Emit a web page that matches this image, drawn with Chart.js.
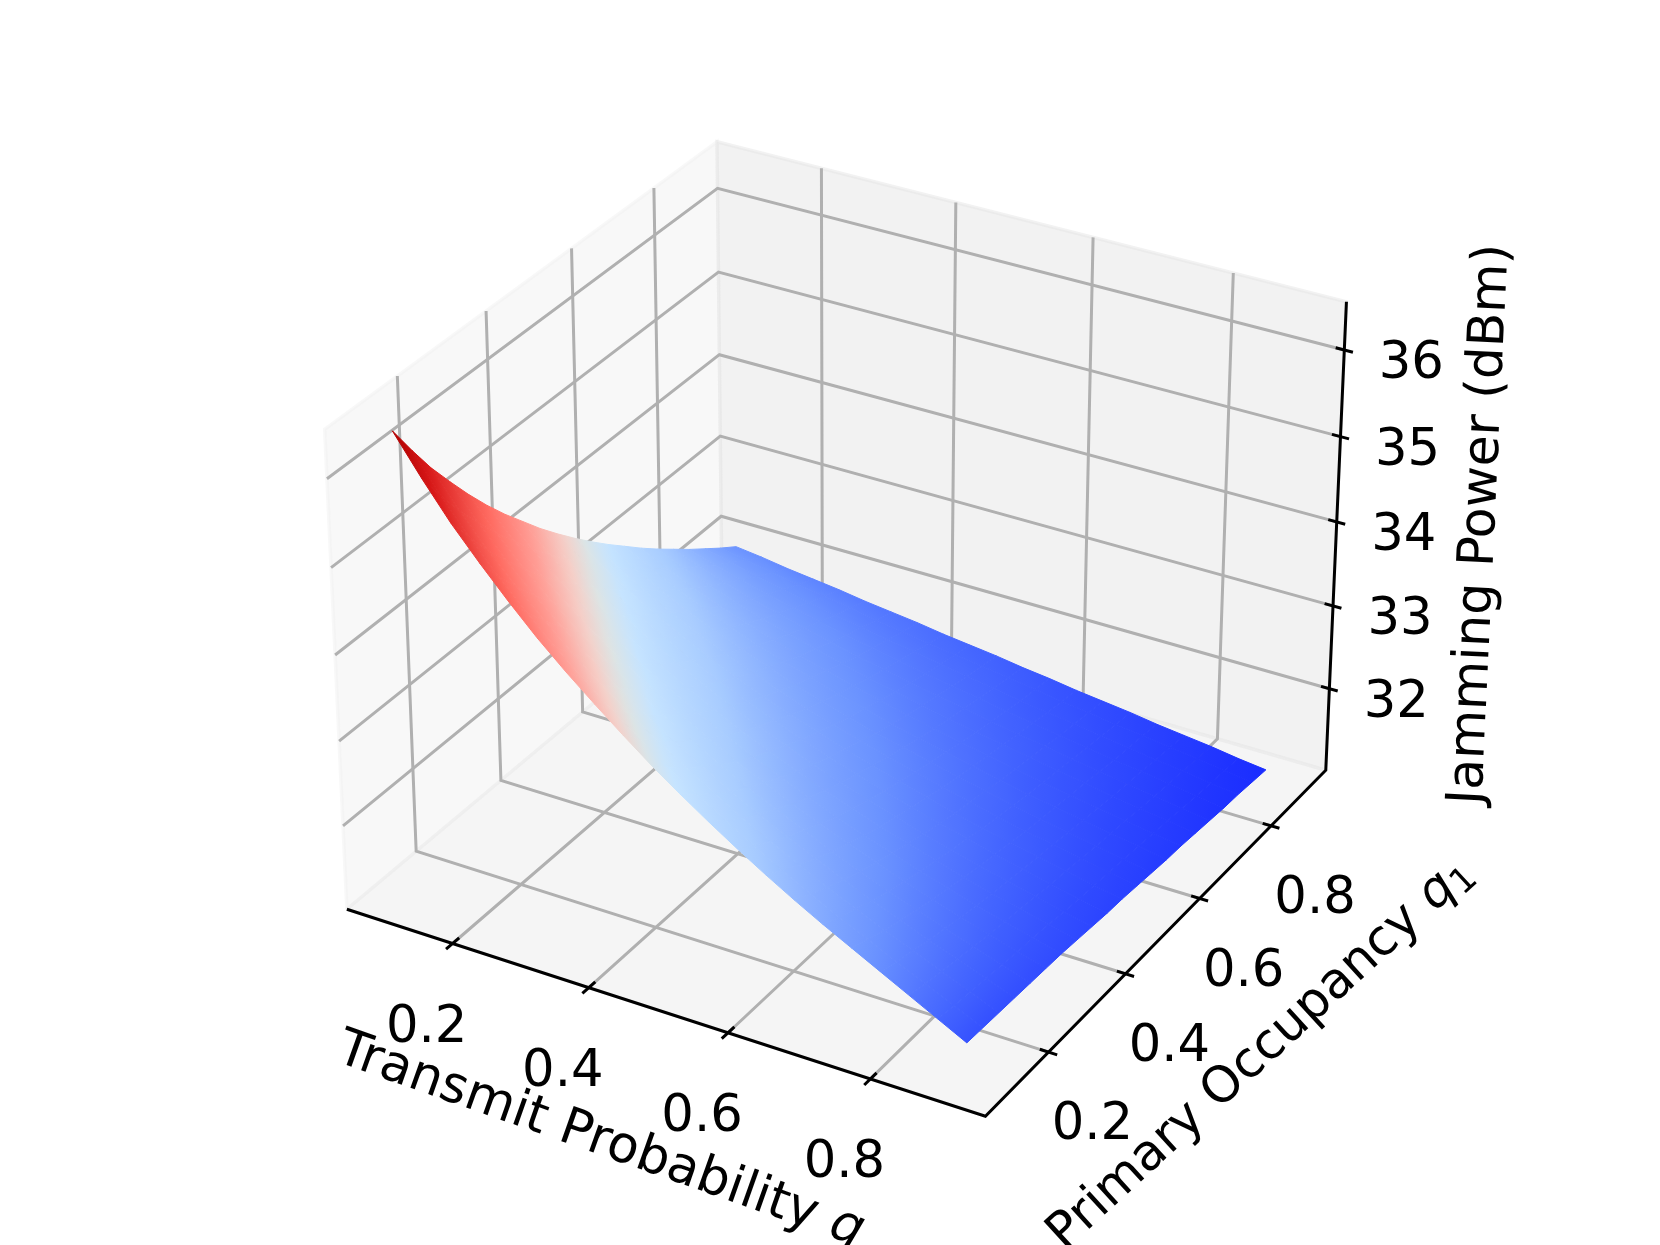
<!DOCTYPE html>
<html>
<head>
<meta charset="utf-8">
<style>
  body { margin: 0; background: #fff; }
  canvas { display: block; }
</style>
<script src="https://cdn.jsdelivr.net/npm/chart.js"></script>
</head>
<body>
<canvas id="surface" width="1660" height="1245"></canvas>
<script>
// Jamming power in dBm. One row per q1 value, one column per q value.
const qValues = [0.1, 0.14, 0.18, 0.22, 0.26, 0.3, 0.34, 0.38, 0.42, 0.46, 0.5, 0.54, 0.58, 0.62, 0.66, 0.7, 0.74, 0.78, 0.82, 0.86, 0.9];
const q1Values = [0.1, 0.14, 0.18, 0.22, 0.26, 0.3, 0.34, 0.38, 0.42, 0.46, 0.5, 0.54, 0.58, 0.62, 0.66, 0.7, 0.74, 0.78, 0.82, 0.86, 0.9];
const powerRows = [
  [36.44, 36.00, 35.59, 35.23, 34.89, 34.57, 34.28, 34.01, 33.75, 33.50, 33.27, 33.05, 32.84, 32.64, 32.45, 32.27, 32.10, 31.93, 31.76, 31.59, 31.42],
  [36.07, 35.65, 35.27, 34.92, 34.60, 34.30, 34.03, 33.77, 33.53, 33.30, 33.09, 32.89, 32.70, 32.51, 32.34, 32.17, 32.02, 31.86, 31.71, 31.56, 31.41],
  [35.72, 35.32, 34.96, 34.64, 34.34, 34.06, 33.80, 33.56, 33.34, 33.13, 32.93, 32.74, 32.57, 32.40, 32.24, 32.09, 31.94, 31.81, 31.67, 31.54, 31.40],
  [35.41, 35.03, 34.69, 34.38, 34.10, 33.84, 33.59, 33.37, 33.16, 32.97, 32.78, 32.61, 32.45, 32.30, 32.15, 32.01, 31.88, 31.75, 31.63, 31.51, 31.39],
  [35.11, 34.75, 34.43, 34.14, 33.88, 33.63, 33.41, 33.20, 33.01, 32.82, 32.65, 32.50, 32.35, 32.20, 32.07, 31.94, 31.82, 31.71, 31.60, 31.49, 31.38],
  [34.83, 34.50, 34.19, 33.92, 33.67, 33.45, 33.24, 33.04, 32.86, 32.69, 32.54, 32.39, 32.25, 32.12, 32.00, 31.88, 31.77, 31.66, 31.56, 31.46, 31.37],
  [34.57, 34.26, 33.97, 33.72, 33.49, 33.27, 33.08, 32.90, 32.73, 32.57, 32.43, 32.29, 32.16, 32.04, 31.93, 31.82, 31.72, 31.62, 31.53, 31.44, 31.36],
  [34.33, 34.03, 33.77, 33.53, 33.31, 33.11, 32.93, 32.77, 32.61, 32.47, 32.33, 32.20, 32.09, 31.97, 31.87, 31.77, 31.67, 31.58, 31.50, 31.42, 31.34],
  [34.09, 33.82, 33.57, 33.35, 33.15, 32.97, 32.80, 32.64, 32.50, 32.37, 32.24, 32.12, 32.01, 31.91, 31.81, 31.72, 31.63, 31.55, 31.47, 31.39, 31.32],
  [33.87, 33.62, 33.39, 33.18, 33.00, 32.83, 32.67, 32.53, 32.40, 32.27, 32.16, 32.05, 31.95, 31.85, 31.76, 31.68, 31.59, 31.52, 31.44, 31.37, 31.30],
  [33.66, 33.43, 33.22, 33.03, 32.86, 32.70, 32.56, 32.42, 32.30, 32.19, 32.08, 31.98, 31.89, 31.80, 31.71, 31.63, 31.56, 31.49, 31.42, 31.35, 31.29],
  [33.46, 33.24, 33.05, 32.88, 32.72, 32.58, 32.45, 32.33, 32.21, 32.11, 32.01, 31.92, 31.83, 31.75, 31.67, 31.59, 31.52, 31.46, 31.39, 31.33, 31.27],
  [33.27, 33.07, 32.90, 32.74, 32.60, 32.47, 32.35, 32.23, 32.13, 32.03, 31.94, 31.86, 31.78, 31.70, 31.63, 31.56, 31.49, 31.43, 31.37, 31.31, 31.25],
  [33.09, 32.91, 32.75, 32.61, 32.48, 32.36, 32.25, 32.15, 32.05, 31.97, 31.88, 31.80, 31.73, 31.66, 31.59, 31.52, 31.46, 31.40, 31.34, 31.29, 31.23],
  [32.91, 32.75, 32.61, 32.48, 32.37, 32.26, 32.16, 32.07, 31.98, 31.90, 31.82, 31.75, 31.68, 31.62, 31.55, 31.49, 31.43, 31.38, 31.32, 31.27, 31.22],
  [32.74, 32.60, 32.48, 32.36, 32.26, 32.17, 32.08, 31.99, 31.91, 31.84, 31.77, 31.70, 31.64, 31.58, 31.52, 31.46, 31.41, 31.35, 31.30, 31.25, 31.20],
  [32.58, 32.46, 32.35, 32.25, 32.16, 32.08, 32.00, 31.92, 31.85, 31.78, 31.72, 31.66, 31.60, 31.54, 31.49, 31.43, 31.38, 31.33, 31.28, 31.23, 31.18],
  [32.42, 32.32, 32.23, 32.14, 32.07, 31.99, 31.92, 31.86, 31.79, 31.73, 31.67, 31.62, 31.56, 31.51, 31.45, 31.40, 31.35, 31.31, 31.26, 31.21, 31.16],
  [32.27, 32.19, 32.11, 32.04, 31.97, 31.91, 31.85, 31.79, 31.74, 31.68, 31.63, 31.58, 31.52, 31.47, 31.43, 31.38, 31.33, 31.28, 31.24, 31.19, 31.15],
  [32.12, 32.06, 32.00, 31.94, 31.89, 31.84, 31.78, 31.73, 31.68, 31.63, 31.59, 31.54, 31.49, 31.44, 31.40, 31.35, 31.31, 31.26, 31.22, 31.17, 31.13],
  [31.98, 31.94, 31.89, 31.85, 31.81, 31.76, 31.72, 31.68, 31.63, 31.59, 31.55, 31.50, 31.46, 31.41, 31.37, 31.33, 31.28, 31.24, 31.20, 31.15, 31.11]
];

const qTicks = [0.2, 0.4, 0.6, 0.8];
const q1Ticks = [0.2, 0.4, 0.6, 0.8];
const powerTicks = [32, 33, 34, 35, 36];

// Limits of the drawn box
const qBox = [0.0417, 0.9583];
const q1Box = [0.0417, 0.9583];
const powerBox = [31.0, 36.55];

// Colours along the surface, from lowest to highest power
const colourStops = [
  [0, 26, 44, 255],
  [0.08, 64, 96, 255],
  [0.16, 106, 146, 255],
  [0.3, 168, 204, 255],
  [0.41, 198, 228, 255],
  [0.46, 221, 228, 228],
  [0.505, 245, 207, 200],
  [0.585, 255, 158, 150],
  [0.7, 255, 106, 96],
  [0.88, 216, 24, 24],
  [1, 176, 0, 0]
];

const font = "'DejaVu Sans'";
const fontSize = 51.2;
const lineWidth = 3;

// mplot3d camera: elevation 30, azimuth -60, distance 10, box 4:4:3
function project(q, q1, power) {
  const dx = ((q - qBox[0]) / (qBox[1] - qBox[0]) - 0.5) * 1.1428;
  const dy = ((q1 - q1Box[0]) / (q1Box[1] - q1Box[0]) - 0.5) * 1.1428;
  const dz = ((power - powerBox[0]) / (powerBox[1] - powerBox[0]) - 0.5) * 0.8571;
  const w = 10 - (0.433 * dx - 0.75 * dy + 0.5 * dz);
  return {
    x: (0.866 * dx + 0.5 * dy) / w,
    y: (-0.25 * dx + 0.433 * dy + 0.866 * dz) / w
  };
}

function colourFor(power) {
  const t = (power - 31.11) / (36.44 - 31.11);
  let k = 0;
  while (k < colourStops.length - 2 && t > colourStops[k + 1][0]) k++;
  const a = colourStops[k], b = colourStops[k + 1];
  const f = Math.min(1, Math.max(0, (t - a[0]) / (b[0] - a[0])));
  const mix = n => Math.round(a[n] + (b[n] - a[n]) * f);
  return `rgb(${mix(1)},${mix(2)},${mix(3)})`;
}

function lineSet(points, colour, width) {
  return {
    data: points,
    showLine: true,
    pointRadius: 0,
    borderColor: colour,
    borderWidth: width,
    borderCapStyle: "butt",
    borderJoinStyle: "miter",
    fill: false,
    clip: false
  };
}

function paneSet(points, colour) {
  const set = lineSet(points.concat([points[0]]), colour, 3.4);
  set.fill = "shape";
  set.backgroundColor = colour;
  return set;
}

const [qLo, qHi] = qBox;
const [q1Lo, q1Hi] = q1Box;
const [zLo, zHi] = powerBox;
const layers = [];

// Panes
layers.push(paneSet([project(qLo, q1Lo, zLo), project(qLo, q1Hi, zLo), project(qLo, q1Hi, zHi), project(qLo, q1Lo, zHi)], "rgba(242,242,242,0.5)"));
layers.push(paneSet([project(qLo, q1Hi, zLo), project(qHi, q1Hi, zLo), project(qHi, q1Hi, zHi), project(qLo, q1Hi, zHi)], "rgba(230,230,230,0.5)"));
layers.push(paneSet([project(qLo, q1Lo, zLo), project(qHi, q1Lo, zLo), project(qHi, q1Hi, zLo), project(qLo, q1Hi, zLo)], "rgba(236,236,236,0.5)"));

// Grid lines
qTicks.forEach(q => {
  layers.push(lineSet([project(q, q1Lo, zLo), project(q, q1Hi, zLo), project(q, q1Hi, zHi)], "#b0b0b0", lineWidth));
});
q1Ticks.forEach(q1 => {
  layers.push(lineSet([project(qHi, q1, zLo), project(qLo, q1, zLo), project(qLo, q1, zHi)], "#b0b0b0", lineWidth));
});
powerTicks.forEach(z => {
  layers.push(lineSet([project(qLo, q1Lo, z), project(qLo, q1Hi, z), project(qHi, q1Hi, z)], "#b0b0b0", lineWidth));
});

// Axis lines and tick marks
layers.push(lineSet([project(qLo, q1Lo, zLo), project(qHi, q1Lo, zLo), project(qHi, q1Hi, zLo), project(qHi, q1Hi, zHi)], "#000", lineWidth));
qTicks.forEach(q => {
  layers.push(lineSet([project(q, q1Lo - 0.015, zLo), project(q, q1Lo + 0.015, zLo)], "#000", lineWidth));
});
q1Ticks.forEach(q1 => {
  layers.push(lineSet([project(qHi - 0.012, q1, zLo), project(qHi + 0.012, q1, zLo)], "#000", lineWidth));
});
powerTicks.forEach(z => {
  layers.push(lineSet([project(qHi - 0.012, q1Hi, z), project(qHi + 0.012, q1Hi, z)], "#000", lineWidth));
});

// Shade one cell along the direction its power falls fastest on screen
function cellGradient(chart, corners, powers) {
  const { x, y } = chart.scales;
  const px = corners.map(p => x.getPixelForValue(p.x));
  const py = corners.map(p => y.getPixelForValue(p.y));
  // options also get resolved once before the scales are laid out
  if (!px.concat(py).every(Number.isFinite)) return "transparent";
  const d1x = px[2] - px[0], d1y = py[2] - py[0], dz1 = powers[2] - powers[0];
  const d2x = px[3] - px[1], d2y = py[3] - py[1], dz2 = powers[3] - powers[1];
  const det = d1x * d2y - d1y * d2x;
  const a = (dz1 * d2y - dz2 * d1y) / det;
  const b = (d1x * dz2 - d2x * dz1) / det;
  const norm = a * a + b * b;
  const mid = powers.reduce((s, v) => s + v, 0) / 4;
  if (!(norm > 0)) return colourFor(mid);
  const cx = px.reduce((s, v) => s + v, 0) / 4;
  const cy = py.reduce((s, v) => s + v, 0) / 4;
  const top = Math.max(...powers), bottom = Math.min(...powers);
  const g = chart.ctx.createLinearGradient(
    cx + a * (top - mid) / norm, cy + b * (top - mid) / norm,
    cx + a * (bottom - mid) / norm, cy + b * (bottom - mid) / norm
  );
  [0, 0.25, 0.5, 0.75, 1].forEach(s => g.addColorStop(s, colourFor(top + (bottom - top) * s)));
  return g;
}

for (let j = q1Values.length - 2; j >= 0; j--) {
  for (let i = 0; i < qValues.length - 1; i++) {
    const corner = (m, n) => project(qValues[m], q1Values[n], powerRows[n][m]);
    const corners = [corner(i, j), corner(i + 1, j), corner(i + 1, j + 1), corner(i, j + 1)];
    const powers = [powerRows[j][i], powerRows[j][i + 1], powerRows[j + 1][i + 1], powerRows[j + 1][i]];
    const paint = c => cellGradient(c.chart, corners, powers);
    layers.push({
      data: corners.concat([corners[0]]),
      showLine: true,
      pointRadius: 0,
      fill: "shape",
      backgroundColor: paint,
      borderColor: paint,
      borderWidth: 1,
      clip: false
    });
  }
}

// Text placed relative to the projected tick positions
function drawParts(ctx, parts, cx, cy, angle) {
  ctx.save();
  ctx.translate(cx, cy);
  ctx.rotate(angle * Math.PI / 180);
  ctx.textBaseline = "alphabetic";
  ctx.textAlign = "left";
  const widthOf = p => { ctx.font = p.font; return ctx.measureText(p.text).width; };
  const total = parts.reduce((sum, p) => sum + widthOf(p), 0);
  let at = -total / 2;
  parts.forEach(p => {
    const w = widthOf(p);
    ctx.fillText(p.text, at, fontSize * 0.36 + (p.drop || 0));
    at += w;
  });
  ctx.restore();
}

const plain = `${fontSize}px ${font}`;
const italic = `italic ${fontSize}px ${font}`;

const textPlugin = {
  id: "axisText",
  afterDraw(chart) {
    const { ctx, scales: { x, y } } = chart;
    const at = p => [x.getPixelForValue(p.x), y.getPixelForValue(p.y)];
    ctx.fillStyle = "#000";
    ctx.textBaseline = "middle";
    ctx.textAlign = "center";
    ctx.font = plain;
    qTicks.forEach(q => {
      const [px, py] = at(project(q, q1Lo, zLo));
      ctx.fillText(q.toFixed(1), px - 26, py + 85);
    });
    q1Ticks.forEach(q1 => {
      const [px, py] = at(project(qHi, q1, zLo));
      ctx.fillText(q1.toFixed(1), px + 44, py + 74);
    });
    powerTicks.forEach(z => {
      const [px, py] = at(project(qHi, q1Hi, z));
      ctx.fillText(String(z), px + 67, py + 15);
    });
    drawParts(ctx, [{ text: "Transmit Probability ", font: plain }, { text: "q", font: italic }], 602, 1136, 19.5);
    drawParts(ctx, [{ text: "Primary Occupancy ", font: "50px " + font }, { text: "q", font: "italic 50px " + font }, { text: "1", font: `35px ${font}`, drop: 7 }], 1257, 1050, -42.5);
    drawParts(ctx, [{ text: "Jamming Power (dBm)", font: "50.4px " + font }], 1476, 524, -87.3);
  }
};

new Chart(document.getElementById("surface"), {
  type: "scatter",
  data: { datasets: layers.slice().reverse() },
  options: {
    responsive: false,
    animation: false,
    events: [],
    layout: { padding: 0 },
    plugins: { legend: { display: false }, tooltip: { enabled: false } },
    scales: {
      x: { type: "linear", display: false, min: -845 / 6403, max: 815 / 6403 },
      y: { type: "linear", display: false, min: -638.5 / 6385, max: 606.5 / 6385 }
    }
  },
  plugins: [textPlugin]
});
</script>
</body>
</html>
